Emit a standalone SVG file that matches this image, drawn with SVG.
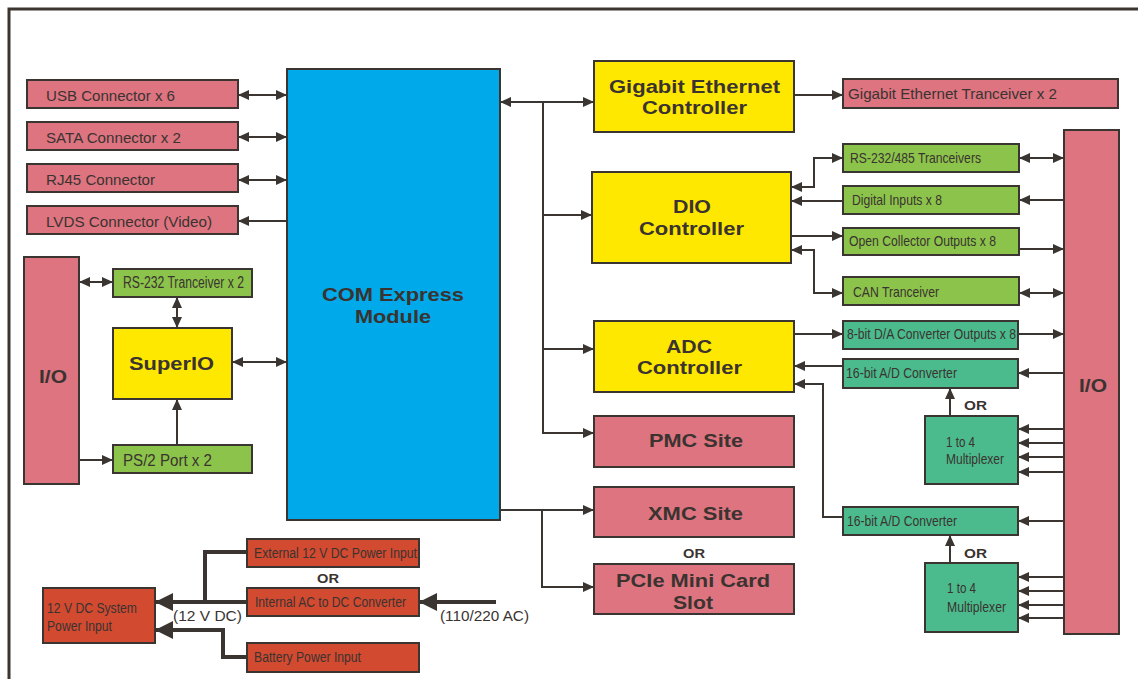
<svg xmlns="http://www.w3.org/2000/svg" width="1138" height="679" viewBox="0 0 1138 679">
<defs>
<style>
.bx{stroke:#3a3530;stroke-width:2}
.pk{fill:#dd7480}
.gr{fill:#8cc34b}
.tl{fill:#4bbb8d}
.yl{fill:#ffe800}
.bl{fill:#00a9e9}
.rd{fill:#d24a30}
text{font-family:"Liberation Sans",Arial,sans-serif;fill:#3a3330}
.s{font-size:15px}
.g{font-size:16px}
.n{font-size:15px}
.p{font-size:14px}
.b{font-size:18px;font-weight:bold}
.o{font-size:13px;font-weight:bold}
.c{fill:none;stroke:#3a3530;stroke-width:2}
.w{fill:none;stroke:#3a3530;stroke-width:4}
</style>
<marker id="a" markerUnits="userSpaceOnUse" markerWidth="11" markerHeight="10" refX="11" refY="5" orient="auto-start-reverse"><path d="M0,0 L11,5 L0,10 z" fill="#3a3530"/></marker>
<marker id="g" markerUnits="userSpaceOnUse" markerWidth="18" markerHeight="18" refX="18" refY="9" orient="auto-start-reverse"><path d="M0,0 L18,9 L0,18 z" fill="#3a3530"/></marker>
</defs>
<rect width="1138" height="679" fill="#ffffff"/>
<path d="M9,679 V9 H1138" fill="none" stroke="#3a3530" stroke-width="3"/>

<g id="connectors">
<path class="c" d="M238,95 H287" marker-start="url(#a)" marker-end="url(#a)"/>
<path class="c" d="M238,137 H287" marker-start="url(#a)" marker-end="url(#a)"/>
<path class="c" d="M238,180 H287" marker-start="url(#a)" marker-end="url(#a)"/>
<path class="c" d="M287,221 H238" marker-end="url(#a)"/>
<path class="c" d="M79,282 H113" marker-start="url(#a)" marker-end="url(#a)"/>
<path class="c" d="M177,297 V328" marker-start="url(#a)" marker-end="url(#a)"/>
<path class="c" d="M232,362 H287" marker-start="url(#a)" marker-end="url(#a)"/>
<path class="c" d="M177,445 V399" marker-end="url(#a)"/>
<path class="c" d="M79,460 H113" marker-end="url(#a)"/>
<path class="c" d="M500,102 H594" marker-start="url(#a)" marker-end="url(#a)"/>
<path class="c" d="M543,102 V433 H594" marker-end="url(#a)"/>
<path class="c" d="M543,215 H592" marker-end="url(#a)"/>
<path class="c" d="M543,349 H594" marker-end="url(#a)"/>
<path class="c" d="M794,95 H843" marker-end="url(#a)"/>
<path class="c" d="M791,187 H814 V158 H843" marker-start="url(#a)" marker-end="url(#a)"/>
<path class="c" d="M843,201 H791" marker-end="url(#a)"/>
<path class="c" d="M791,236 H843" marker-end="url(#a)"/>
<path class="c" d="M791,250 H814 V293 H843" marker-start="url(#a)" marker-end="url(#a)"/>
<path class="c" d="M1019,158 H1064" marker-start="url(#a)" marker-end="url(#a)"/>
<path class="c" d="M1064,200 H1019" marker-end="url(#a)"/>
<path class="c" d="M1019,249 H1064" marker-end="url(#a)"/>
<path class="c" d="M1019,293 H1064" marker-start="url(#a)" marker-end="url(#a)"/>
<path class="c" d="M794,334 H843" marker-end="url(#a)"/>
<path class="c" d="M1018,334 H1064" marker-end="url(#a)"/>
<path class="c" d="M843,366 H794" marker-end="url(#a)"/>
<path class="c" d="M1064,373 H1018" marker-end="url(#a)"/>
<path class="c" d="M950,416 V388" marker-end="url(#a)"/>
<path class="c" d="M1064,429 H1018" marker-end="url(#a)"/>
<path class="c" d="M1064,443 H1018" marker-end="url(#a)"/>
<path class="c" d="M1064,457 H1018" marker-end="url(#a)"/>
<path class="c" d="M1064,472 H1018" marker-end="url(#a)"/>
<path class="c" d="M843,517 H823 V384 H794" marker-end="url(#a)"/>
<path class="c" d="M1064,521 H1018" marker-end="url(#a)"/>
<path class="c" d="M950,563 V535" marker-end="url(#a)"/>
<path class="c" d="M1064,577 H1018" marker-end="url(#a)"/>
<path class="c" d="M1064,591 H1018" marker-end="url(#a)"/>
<path class="c" d="M1064,605 H1018" marker-end="url(#a)"/>
<path class="c" d="M1064,618 H1018" marker-end="url(#a)"/>
<path class="c" d="M500,510 H594" marker-end="url(#a)"/>
<path class="c" d="M542,510 V587 H594" stroke-width="3" marker-end="url(#a)"/>
<path class="w" d="M419,602 H155" marker-end="url(#g)"/>
<path class="w" d="M247,552 H205 V602"/>
<path class="w" d="M247,657 H223 V630 H155" marker-end="url(#g)"/>
<path class="w" d="M496,602 H419" marker-end="url(#g)"/>
</g>

<g id="usb"><rect class="bx pk" x="27" y="80" width="211" height="28"/><text class="s" x="46" y="101" textLength="129" lengthAdjust="spacingAndGlyphs">USB Connector x 6</text></g>
<g id="sata"><rect class="bx pk" x="27" y="122" width="211" height="28"/><text class="s" x="46" y="143" textLength="135" lengthAdjust="spacingAndGlyphs">SATA Connector x 2</text></g>
<g id="rj45"><rect class="bx pk" x="27" y="164" width="211" height="28"/><text class="s" x="46" y="185" textLength="109" lengthAdjust="spacingAndGlyphs">RJ45 Connector</text></g>
<g id="lvds"><rect class="bx pk" x="27" y="206" width="211" height="28"/><text class="s" x="46" y="227" textLength="166" lengthAdjust="spacingAndGlyphs">LVDS Connector (Video)</text></g>

<g id="io-left"><rect class="bx pk" x="24" y="257" width="55" height="227"/><text class="b" x="39" y="383" textLength="28" lengthAdjust="spacingAndGlyphs">I/O</text></g>
<g id="rs232"><rect class="bx gr" x="113" y="269" width="139" height="28"/><text class="g" x="123" y="288" textLength="121" lengthAdjust="spacingAndGlyphs">RS-232 Tranceiver x 2</text></g>
<g id="superio"><rect class="bx yl" x="113" y="328" width="119" height="71"/><text class="b" x="129" y="370" textLength="85" lengthAdjust="spacingAndGlyphs">SuperIO</text></g>
<g id="ps2"><rect class="bx gr" x="113" y="445" width="139" height="28"/><text class="g" x="123" y="466" textLength="89" lengthAdjust="spacingAndGlyphs">PS/2 Port x 2</text></g>

<g id="com"><rect class="bx bl" x="287" y="69" width="213" height="451"/><text class="b" x="322" y="301" textLength="142" lengthAdjust="spacingAndGlyphs">COM Express</text><text class="b" x="355" y="323" textLength="76" lengthAdjust="spacingAndGlyphs">Module</text></g>

<g id="gbe"><rect class="bx yl" x="594" y="61" width="200" height="71"/><text class="b" x="609" y="93" textLength="171" lengthAdjust="spacingAndGlyphs">Gigabit Ethernet</text><text class="b" x="642" y="114" textLength="105" lengthAdjust="spacingAndGlyphs">Controller</text></g>
<g id="gbe-tx"><rect class="bx pk" x="843" y="79" width="275" height="29"/><text class="s" x="848" y="99" textLength="209" lengthAdjust="spacingAndGlyphs">Gigabit Ethernet Tranceiver x 2</text></g>

<g id="dio"><rect class="bx yl" x="592" y="172" width="199" height="91"/><text class="b" x="673" y="213" textLength="38" lengthAdjust="spacingAndGlyphs">DIO</text><text class="b" x="639" y="235" textLength="105" lengthAdjust="spacingAndGlyphs">Controller</text></g>
<g id="rs485"><rect class="bx gr" x="843" y="144" width="176" height="28"/><text class="n" x="850" y="163" textLength="131" lengthAdjust="spacingAndGlyphs">RS-232/485 Tranceivers</text></g>
<g id="din"><rect class="bx gr" x="843" y="186" width="176" height="28"/><text class="n" x="852" y="205" textLength="90" lengthAdjust="spacingAndGlyphs">Digital Inputs x 8</text></g>
<g id="oc"><rect class="bx gr" x="843" y="228" width="176" height="27"/><text class="n" x="849" y="246" textLength="147" lengthAdjust="spacingAndGlyphs">Open Collector Outputs x 8</text></g>
<g id="can"><rect class="bx gr" x="843" y="277" width="176" height="28"/><text class="n" x="853" y="297" textLength="86" lengthAdjust="spacingAndGlyphs">CAN Tranceiver</text></g>

<g id="adc"><rect class="bx yl" x="594" y="321" width="200" height="71"/><text class="b" x="666" y="353" textLength="46" lengthAdjust="spacingAndGlyphs">ADC</text><text class="b" x="637" y="374" textLength="105" lengthAdjust="spacingAndGlyphs">Controller</text></g>
<g id="da"><rect class="bx tl" x="843" y="321" width="175" height="28"/><text class="n" x="847" y="339" textLength="169" lengthAdjust="spacingAndGlyphs">8-bit D/A Converter Outputs x 8</text></g>
<g id="ad1"><rect class="bx tl" x="843" y="359" width="175" height="29"/><text class="n" x="846" y="378" textLength="111" lengthAdjust="spacingAndGlyphs">16-bit A/D Converter</text></g>
<g id="or1"><text class="o" x="964" y="410" textLength="23" lengthAdjust="spacingAndGlyphs">OR</text></g>
<g id="mux1"><rect class="bx tl" x="925" y="416" width="93" height="68"/><text class="n" x="946" y="447" textLength="29" lengthAdjust="spacingAndGlyphs">1 to 4</text><text class="n" x="946" y="464" textLength="58" lengthAdjust="spacingAndGlyphs">Multiplexer</text></g>
<g id="ad2"><rect class="bx tl" x="843" y="507" width="175" height="28"/><text class="n" x="847" y="526" textLength="110" lengthAdjust="spacingAndGlyphs">16-bit A/D Converter</text></g>
<g id="or2"><text class="o" x="964" y="558" textLength="23" lengthAdjust="spacingAndGlyphs">OR</text></g>
<g id="mux2"><rect class="bx tl" x="925" y="563" width="93" height="69"/><text class="n" x="947" y="593" textLength="29" lengthAdjust="spacingAndGlyphs">1 to 4</text><text class="n" x="947" y="612" textLength="59" lengthAdjust="spacingAndGlyphs">Multiplexer</text></g>

<g id="io-right"><rect class="bx pk" x="1064" y="130" width="55" height="504"/><text class="b" x="1079" y="392" textLength="28" lengthAdjust="spacingAndGlyphs">I/O</text></g>

<g id="pmc"><rect class="bx pk" x="594" y="416" width="200" height="51"/><text class="b" x="649" y="447" textLength="94" lengthAdjust="spacingAndGlyphs">PMC Site</text></g>
<g id="xmc"><rect class="bx pk" x="594" y="487" width="200" height="50"/><text class="b" x="648" y="520" textLength="95" lengthAdjust="spacingAndGlyphs">XMC Site</text></g>
<g id="or3"><text class="o" x="683" y="558" textLength="22" lengthAdjust="spacingAndGlyphs">OR</text></g>
<g id="pcie"><rect class="bx pk" x="594" y="564" width="200" height="50"/><text class="b" x="616" y="587" textLength="154" lengthAdjust="spacingAndGlyphs">PCIe Mini Card</text><text class="b" x="673" y="609" textLength="40" lengthAdjust="spacingAndGlyphs">Slot</text></g>

<g id="sys-power"><rect class="bx rd" x="43" y="588" width="112" height="55"/><text class="p" x="47" y="613" textLength="90" lengthAdjust="spacingAndGlyphs">12 V DC System</text><text class="p" x="47" y="631" textLength="65" lengthAdjust="spacingAndGlyphs">Power Input</text></g>
<g id="ext-power"><rect class="bx rd" x="247" y="539" width="172" height="28"/><text class="p" x="254" y="558" textLength="163" lengthAdjust="spacingAndGlyphs">External 12 V DC Power Input</text></g>
<g id="or4"><text class="o" x="317" y="583" textLength="22" lengthAdjust="spacingAndGlyphs">OR</text></g>
<g id="acdc"><rect class="bx rd" x="247" y="588" width="172" height="28"/><text class="p" x="255" y="607" textLength="151" lengthAdjust="spacingAndGlyphs">Internal AC to DC Converter</text></g>
<g id="battery"><rect class="bx rd" x="247" y="643" width="172" height="29"/><text class="p" x="254" y="662" textLength="107" lengthAdjust="spacingAndGlyphs">Battery Power Input</text></g>
<g id="labels"><text class="n" x="173" y="621" textLength="69" lengthAdjust="spacingAndGlyphs">(12 V DC)</text><text class="n" x="440" y="621" textLength="89" lengthAdjust="spacingAndGlyphs">(110/220 AC)</text></g>
</svg>
